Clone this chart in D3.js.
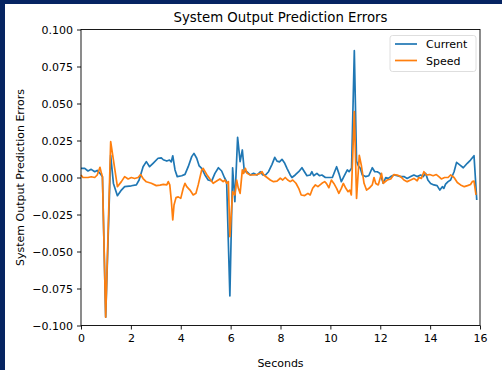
<!DOCTYPE html>
<html>

<head>
  <meta charset="utf-8">
  <title>System Output Prediction Errors</title>
  <script src='https://cdn.jsdelivr.net/npm/d3@7/dist/d3.min.js'></script>
  <style>
    body {
      margin: 0;
      background: #062462;
    }

    svg {
      display: block;
    }

    text {
      font-family: 'DejaVu Sans', sans-serif;
      fill: #000;
    }

    .axis path,
    .axis line {
      stroke: #000;
      stroke-width: 0.9;
    }

    .axis text {
      font-size: 11px;
    }
  </style>
</head>

<body>
  <svg id="chart"></svg>
  <script>
    var seriesNames = ['Current', 'Speed'];
    var seriesColors = ['#1f77b4', '#ff7f0e'];
    var xTicks = [0, 2, 4, 6, 8, 10, 12, 14, 16];
    var yTicks = [-0.1, -0.075, -0.05, -0.025, 0, 0.025, 0.05, 0.075, 0.1];

    // [seconds, error]
    var current = [
      [0.00, 0.0062], [0.15, 0.0062], [0.28, 0.0044], [0.41, 0.0055], [0.55, 0.0039],
      [0.65, 0.0048], [0.76, 0.0028], [0.86, 0.0005], [0.99, -0.0944], [1.19, 0.015],
      [1.30, -0.004], [1.46, -0.0123], [1.62, -0.0085], [1.75, -0.0062], [2.02, -0.0056],
      [2.22, -0.0050], [2.33, -0.0017], [2.49, 0.0073], [2.62, 0.0107], [2.75, 0.0073],
      [2.89, 0.0096], [3.09, 0.0130], [3.22, 0.0133], [3.30, 0.0120], [3.44, 0.0111],
      [3.55, 0.0118], [3.62, 0.0106], [3.68, 0.0147], [3.77, 0.0051], [3.86, 0.0006],
      [4.04, 0.0012], [4.17, 0.0021], [4.30, 0.0073], [4.44, 0.0141], [4.53, 0.0163],
      [4.64, 0.0130], [4.74, 0.0078], [4.84, 0.0062], [4.97, 0.0017], [5.10, -0.0017],
      [5.24, -0.0024], [5.37, 0.0028], [5.51, 0.0066], [5.64, 0.0044], [5.75, 0.0000],
      [5.84, -0.0028], [5.97, -0.0800], [6.08, 0.0066], [6.17, -0.0163], [6.28, 0.0272],
      [6.38, 0.0107], [6.47, 0.0186], [6.55, 0.0040], [6.66, 0.0039], [6.79, 0.0017],
      [6.92, 0.0028], [7.06, 0.0017], [7.19, 0.0039], [7.29, 0.0017], [7.40, 0.0017],
      [7.52, 0.0039], [7.66, 0.0089], [7.77, 0.0136], [7.86, 0.0111], [7.96, 0.0106],
      [8.06, 0.0123], [8.17, 0.0096], [8.26, 0.0062], [8.39, 0.0017], [8.46, 0.0000],
      [8.59, 0.0017], [8.73, 0.0039], [8.86, 0.0066], [8.96, 0.0039], [9.06, 0.0012],
      [9.19, 0.0017], [9.26, 0.0039], [9.33, 0.0012], [9.46, 0.0028], [9.56, 0.0012],
      [9.66, 0.0017], [9.80, 0.0000], [10.08, 0.0000], [10.17, 0.0039], [10.25, 0.0073],
      [10.34, 0.0028], [10.44, -0.0028], [10.54, 0.0006], [10.68, 0.0051], [10.75, 0.0039],
      [10.85, 0.0062], [10.96, 0.0857], [11.05, 0.0110], [11.12, 0.0080], [11.20, 0.0062],
      [11.28, 0.0017], [11.41, 0.0006], [11.54, 0.0012], [11.68, 0.0066], [11.78, 0.0039],
      [11.88, 0.0039], [11.99, 0.0028], [12.12, -0.0039], [12.22, 0.0000], [12.32, -0.0006],
      [12.42, 0.0006], [12.55, 0.0017], [12.68, 0.0012], [12.82, 0.0006], [12.95, 0.0006],
      [13.08, -0.0006], [13.22, 0.0006], [13.35, 0.0017], [13.48, 0.0006], [13.62, 0.0017],
      [13.72, 0.0006], [13.82, 0.0028], [13.91, -0.0017], [14.02, -0.0040], [14.15, -0.0050],
      [14.28, -0.0055], [14.39, -0.0085], [14.49, -0.0062], [14.55, -0.0073], [14.62, -0.0045],
      [14.72, -0.0028], [14.82, -0.0017], [14.96, 0.0039], [15.06, 0.0102], [15.20, 0.0084],
      [15.33, 0.0066], [15.49, 0.0096], [15.62, 0.0118], [15.76, 0.0147], [15.87, -0.0152]
    ];

    var speed = [
      [0.00, 0.0017], [0.08, 0.0000], [0.28, 0.0000], [0.41, 0.0005], [0.55, 0.0000],
      [0.65, 0.0017], [0.76, 0.0069], [0.82, 0.0028], [0.86, 0.0005], [0.99, -0.0944],
      [1.19, 0.0242], [1.46, -0.0062], [1.62, -0.0028], [1.75, 0.0006], [1.89, -0.0010],
      [2.02, 0.0000], [2.15, -0.0007], [2.29, 0.0000], [2.39, 0.0020], [2.49, -0.0007],
      [2.62, -0.0029], [2.82, -0.0039], [3.02, -0.0055], [3.17, -0.0051], [3.30, -0.0047],
      [3.44, -0.0050], [3.50, -0.0028], [3.56, -0.0050], [3.62, -0.0152], [3.68, -0.0287],
      [3.73, -0.0186], [3.81, -0.0136], [3.90, -0.0131], [4.00, -0.0141], [4.10, -0.0073],
      [4.17, -0.0039], [4.24, -0.0062], [4.37, -0.0085], [4.50, -0.0118], [4.61, -0.0107],
      [4.70, -0.0050], [4.84, 0.0051], [4.90, 0.0062], [5.04, 0.0021], [5.17, -0.0010],
      [5.30, -0.0039], [5.44, -0.0024], [5.57, -0.0010], [5.70, -0.0028], [5.77, -0.0017],
      [5.84, -0.0039], [5.91, -0.0028], [5.97, -0.0400], [6.08, -0.0096], [6.17, -0.0118],
      [6.24, -0.0017], [6.31, -0.0073], [6.38, -0.0107], [6.47, 0.0051], [6.52, 0.0028],
      [6.59, 0.0062], [6.66, 0.0028], [6.79, 0.0017], [6.92, 0.0017], [7.06, 0.0020],
      [7.19, 0.0028], [7.26, 0.0039], [7.33, 0.0017], [7.46, 0.0000], [7.59, -0.0017],
      [7.72, -0.0028], [7.86, -0.0024], [7.99, -0.0005], [8.09, -0.0017], [8.19, 0.0000],
      [8.29, -0.0017], [8.39, -0.0028], [8.49, -0.0017], [8.62, -0.0039], [8.73, -0.0073],
      [8.83, -0.0118], [8.97, -0.0122], [9.10, -0.0107], [9.19, -0.0118], [9.29, -0.0073],
      [9.40, -0.0050], [9.50, -0.0062], [9.66, -0.0039], [9.77, -0.0028], [9.84, -0.0040],
      [9.94, -0.0069], [10.04, -0.0017], [10.14, -0.0040], [10.25, -0.0073], [10.34, -0.0107],
      [10.44, -0.0073], [10.52, -0.0040], [10.62, -0.0073], [10.71, -0.0096], [10.78, -0.0085],
      [10.84, -0.0118], [10.96, 0.0445], [11.05, -0.0141], [11.16, 0.0150], [11.24, 0.0084],
      [11.30, 0.0017], [11.35, -0.0039], [11.45, -0.0085], [11.55, -0.0073], [11.68, -0.0050],
      [11.75, 0.0000], [11.82, -0.0040], [11.92, -0.0050], [12.05, 0.0028], [12.12, -0.0039],
      [12.28, -0.0017], [12.42, -0.0010], [12.55, 0.0020], [12.68, 0.0017], [12.82, 0.0006],
      [12.95, -0.0017], [13.08, -0.0028], [13.22, -0.0017], [13.35, -0.0006], [13.48, -0.0022],
      [13.55, 0.0000], [13.65, -0.0006], [13.75, 0.0039], [13.85, 0.0017], [13.98, 0.0020],
      [14.12, 0.0012], [14.25, 0.0020], [14.35, 0.0006], [14.45, -0.0010], [14.58, 0.0000],
      [14.72, 0.0000], [14.82, 0.0017], [14.96, 0.0000], [15.09, -0.0034], [15.22, -0.0050],
      [15.37, -0.0062], [15.50, -0.0055], [15.62, -0.0047], [15.69, -0.0028], [15.76, -0.0024],
      [15.84, -0.0118]
    ];

    var series = [current, speed];

    var W = 502, H = 370;
    var margin = { top: 29.5, right: 22, bottom: 44.5, left: 81 };
    var width = W - margin.left - margin.right,
      height = H - margin.top - margin.bottom;

    var svgRoot = d3.select('#chart')
      .attr('width', W)
      .attr('height', H);

    // white figure panel inside the navy frame
    svgRoot.append('rect')
      .attr('x', 5).attr('y', 4)
      .attr('width', W - 5).attr('height', H - 4)
      .style('fill', '#fff');

    var svg = svgRoot.append('g')
      .attr('transform', 'translate(' + margin.left + ',' + margin.top + ')');

    var x = d3.scaleLinear().domain([0, 16]).range([0, width]);
    var y = d3.scaleLinear().domain([-0.1, 0.1]).range([height, 0]);

    var line = d3.line()
      .x(d => x(d[0]))
      .y(d => y(d[1]));

    svg.selectAll('path.series')
      .data(series)
      .enter()
      .append('path')
      .attr('class', 'series')
      .attr('d', line)
      .style('fill', 'none')
      .style('stroke', (d, i) => seriesColors[i])
      .style('stroke-width', 1.7)
      .style('stroke-linejoin', 'round');

    var xAxis = d3.axisBottom(x)
      .tickValues(xTicks)
      .tickFormat(d3.format('d'))
      .tickSize(4)
      .tickPadding(5);

    var yAxis = d3.axisLeft(y)
      .tickValues(yTicks)
      .tickFormat(d3.format('.3f'))
      .tickSize(4)
      .tickPadding(4);

    svg.append('g')
      .attr('class', 'axis')
      .attr('transform', 'translate(0,' + height + ')')
      .call(xAxis)
      .call(g => g.select('.domain').remove());

    svg.append('g')
      .attr('class', 'axis')
      .call(yAxis)
      .call(g => g.select('.domain').remove());

    // frame (all four spines)
    svg.append('rect')
      .attr('width', width)
      .attr('height', height)
      .style('fill', 'none')
      .style('stroke', '#000')
      .style('stroke-width', 0.9);

    svg.append('text')
      .attr('x', width / 2)
      .attr('y', -8)
      .attr('text-anchor', 'middle')
      .style('font-size', '13.3px')
      .text('System Output Prediction Errors');

    svg.append('text')
      .attr('x', width / 2)
      .attr('y', height + 41)
      .attr('text-anchor', 'middle')
      .style('font-size', '11px')
      .text('Seconds');

    svg.append('text')
      .attr('transform', 'translate(' + (-57) + ',' + (height / 2) + ') rotate(-90)')
      .attr('text-anchor', 'middle')
      .style('font-size', '11px')
      .text('System Output Prediction Errors');

    // legend
    var legend = svg.append('g')
      .attr('transform', 'translate(' + (width - 90) + ',6)');

    legend.append('rect')
      .attr('width', 86)
      .attr('height', 36)
      .attr('rx', 2.5)
      .style('fill', '#fff')
      .style('fill-opacity', 0.8)
      .style('stroke', '#d6d6d6')
      .style('stroke-width', 0.8);

    var item = legend.selectAll('g.item')
      .data(seriesNames)
      .enter()
      .append('g')
      .attr('class', 'item')
      .attr('transform', (d, i) => 'translate(0,' + (8.5 + i * 16.5) + ')');

    item.append('line')
      .attr('x1', 5).attr('x2', 27)
      .style('stroke', (d, i) => seriesColors[i])
      .style('stroke-width', 1.7);

    item.append('text')
      .attr('x', 36)
      .attr('y', 4)
      .style('font-size', '11px')
      .text(d => d);
  </script>
</body>

</html>
